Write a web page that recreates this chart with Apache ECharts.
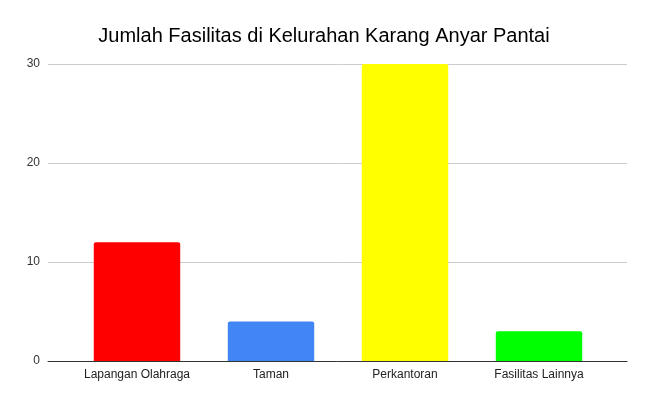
<!DOCTYPE html>
<html>
<head>
<meta charset="utf-8">
<script src="https://cdn.jsdelivr.net/npm/echarts@6/dist/echarts.min.js"></script>
<style>html,body{margin:0;padding:0;background:#fff}#c{width:648px;height:401px}</style>
</head>
<body>
<div id="c"></div>
<script>
const categories = ['Lapangan Olahraga', 'Taman', 'Perkantoran', 'Fasilitas Lainnya'];
const values = [12, 4, 30, 3];
const barColors = ['#ff0000', '#4285f4', '#ffff00', '#00ff00'];
const yTicks = [0, 10, 20, 30];

const font = 'Liberation Sans, Arial, sans-serif';
const chart = echarts.init(document.getElementById('c'), null, {renderer: 'canvas'});
chart.setOption({
  animation: false,
  backgroundColor: '#ffffff',
  title: {
    text: 'Jumlah Fasilitas di Kelurahan Karang Anyar Pantai',
    left: 'center',
    top: 21,
    textStyle: {fontFamily: font, fontSize: 20, fontWeight: 'normal', color: '#000'}
  },
  grid: [
    {left: 48, right: 21, top: 64, bottom: 40, containLabel: false},
    {left: 70, right: 42, top: 64, bottom: 40, containLabel: false}
  ],
  xAxis: [
    {
      gridIndex: 0,
      type: 'category',
      data: categories,
      z: 3,
      axisLine: {lineStyle: {color: '#333333', width: 1}},
      axisTick: {show: false},
      axisLabel: {show: false}
    },
    {
      gridIndex: 1,
      type: 'category',
      data: categories,
      axisLine: {show: false},
      axisTick: {show: false},
      axisLabel: {interval: 0, fontFamily: font, fontSize: 12, color: '#222', margin: 8}
    }
  ],
  yAxis: [
    {
      gridIndex: 0,
      type: 'value',
      min: yTicks[0],
      max: yTicks[yTicks.length - 1],
      interval: 10,
      axisLine: {show: false},
      axisTick: {show: false},
      splitLine: {lineStyle: {color: '#cccccc'}},
      axisLabel: {fontFamily: font, fontSize: 12, color: '#333', margin: 8}
    },
    {
      gridIndex: 1,
      type: 'value',
      min: yTicks[0],
      max: yTicks[yTicks.length - 1],
      interval: 10,
      show: false
    }
  ],
  series: [{
    type: 'bar',
    xAxisIndex: 1,
    yAxisIndex: 1,
    z: 2,
    data: values.map((v, i) => ({value: v, itemStyle: {color: barColors[i]}})),
    barWidth: '64.5%',
    itemStyle: {borderRadius: [2, 2, 0, 0]}
  }]
});
</script>
</body>
</html>
